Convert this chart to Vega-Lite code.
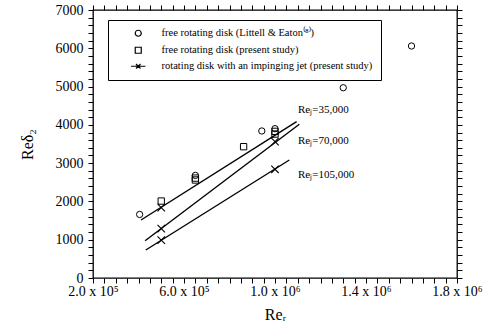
{
  "$schema": "https://vega.github.io/schema/vega-lite/v6.json",
  "width": 364,
  "height": 268,
  "autosize": "none",
  "padding": {"left": 93, "top": 10, "right": 26, "bottom": 51},
  "background": "white",
  "config": {
    "view": {"stroke": "black", "strokeWidth": 1.3},
    "font": "Liberation Serif",
    "axis": {
      "domain": false,
      "grid": false,
      "labelFont": "Liberation Serif",
      "labelFontSize": 14,
      "labelColor": "black",
      "titleFont": "Liberation Serif",
      "titleFontSize": 16,
      "titleFontWeight": "normal",
      "titleColor": "black",
      "labelOverlap": false,
      "labelFlush": false
    }
  },
  "datasets": {
    "pts": [
      {"series": "free rotating disk (Littell & Eaton⁽⁸⁾)", "x": 405000, "y": 1660},
      {"series": "free rotating disk (Littell & Eaton⁽⁸⁾)", "x": 650000, "y": 2680},
      {"series": "free rotating disk (Littell & Eaton⁽⁸⁾)", "x": 942000, "y": 3840},
      {"series": "free rotating disk (Littell & Eaton⁽⁸⁾)", "x": 1000000, "y": 3900},
      {"series": "free rotating disk (Littell & Eaton⁽⁸⁾)", "x": 1300000, "y": 4970},
      {"series": "free rotating disk (Littell & Eaton⁽⁸⁾)", "x": 1600000, "y": 6060},
      {"series": "free rotating disk (present study)", "x": 500000, "y": 2010},
      {"series": "free rotating disk (present study)", "x": 650000, "y": 2610},
      {"series": "free rotating disk (present study)", "x": 650000, "y": 2560},
      {"series": "free rotating disk (present study)", "x": 862000, "y": 3430},
      {"series": "free rotating disk (present study)", "x": 1000000, "y": 3830},
      {"series": "free rotating disk (present study)", "x": 1000000, "y": 3760}
    ],
    "lines": [
      {"rej": "35000", "x": 411000, "y": 1515},
      {"rej": "35000", "x": 1095000, "y": 4083},
      {"rej": "70000", "x": 429000, "y": 974},
      {"rej": "70000", "x": 1107000, "y": 4015},
      {"rej": "105000", "x": 432000, "y": 731},
      {"rej": "105000", "x": 1063000, "y": 3082}
    ],
    "crosses": [
      {"rej": "35000", "x": 500000, "y": 1840},
      {"rej": "70000", "x": 500000, "y": 1290},
      {"rej": "70000", "x": 1000000, "y": 3560},
      {"rej": "105000", "x": 500000, "y": 990},
      {"rej": "105000", "x": 1000000, "y": 2840}
    ],
    "labels": [
      {"label": "Reⱼ=35,000", "x": 1101000, "y": 4390},
      {"label": "Reⱼ=70,000", "x": 1101000, "y": 3580},
      {"label": "Reⱼ=105,000", "x": 1101000, "y": 2690}
    ]
  },
  "layer": [
    {
      "data": {"name": "pts"},
      "mark": {"type": "point", "filled": false, "stroke": "black", "strokeWidth": 1, "size": 40, "opacity": 1},
      "encoding": {
        "x": {
          "field": "x", "type": "quantitative",
          "scale": {"domain": [200000, 1800000], "nice": false, "zero": false},
          "title": "Reᵣ",
          "axis": {
            "orient": "bottom",
            "ticks": true,
            "tickColor": "black",
            "tickWidth": 1,
            "tickSize": 5,
            "values": [200000, 250000, 300000, 350000, 400000, 450000, 500000, 550000, 600000, 650000, 700000, 750000, 800000, 850000, 900000, 950000, 1000000, 1050000, 1100000, 1150000, 1200000, 1250000, 1300000, 1350000, 1400000, 1450000, 1500000, 1550000, 1600000, 1650000, 1700000, 1750000, 1800000],
            "labelExpr": "datum.value % 400000 == 200000 ? (datum.value < 1000000 ? format(datum.value/100000, '.1f') + ' x 10⁵' : format(datum.value/1000000, '.1f') + ' x 10⁶') : ''",
            "encode": {"ticks": {"update": {"y2": {"signal": "datum.value % 200000 == 0 ? -5 : -2.5"}}}},
            "labelPadding": 1,
            "titlePadding": 8
          }
        },
        "y": {
          "field": "y", "type": "quantitative",
          "scale": {"domain": [0, 7000], "nice": false},
          "title": "Reδ₂",
          "axis": {
            "orient": "left",
            "ticks": true,
            "tickColor": "black",
            "tickWidth": 1,
            "tickSize": 5,
            "values": [0, 200, 400, 600, 800, 1000, 1200, 1400, 1600, 1800, 2000, 2200, 2400, 2600, 2800, 3000, 3200, 3400, 3600, 3800, 4000, 4200, 4400, 4600, 4800, 5000, 5200, 5400, 5600, 5800, 6000, 6200, 6400, 6600, 6800, 7000],
            "labelExpr": "datum.value % 1000 == 0 ? datum.value : ''",
            "encode": {"ticks": {"update": {"x2": {"signal": "datum.value % 1000 == 0 ? 5 : 2.5"}}}},
            "labelPadding": 5,
            "titlePadding": 20
          }
        },
        "shape": {
          "field": "series", "type": "nominal",
          "scale": {
            "domain": ["free rotating disk (Littell & Eaton⁽⁸⁾)", "free rotating disk (present study)", "rotating disk with an impinging jet (present study)"],
            "range": ["circle", "square", "M-2.4,0H2.4M-0.75,-0.75L0.75,0.75M-0.75,0.75L0.75,-0.75"]
          },
          "legend": {
            "title": null,
            "orient": "none",
            "legendX": 15,
            "legendY": 10,
            "strokeColor": "black",
            "padding": 8,
            "symbolOffset": 17,
            "labelOffset": 18,
            "rowPadding": 5,
            "symbolSize": 36,
            "symbolStrokeColor": "black",
            "symbolFillColor": "transparent",
            "symbolStrokeWidth": 1.2,
            "fillColor": "white",
            "labelFont": "Liberation Serif",
            "labelFontSize": 10.5,
            "labelColor": "black",
            "labelLimit": 400
          }
        }
      }
    },
    {
      "data": {"name": "lines"},
      "mark": {"type": "line", "color": "black", "strokeWidth": 1.4},
      "encoding": {
        "x": {
          "field": "x", "type": "quantitative",
          "axis": {
            "orient": "top",
            "ticks": true,
            "tickColor": "black",
            "tickWidth": 1,
            "tickSize": 5,
            "values": [200000, 250000, 300000, 350000, 400000, 450000, 500000, 550000, 600000, 650000, 700000, 750000, 800000, 850000, 900000, 950000, 1000000, 1050000, 1100000, 1150000, 1200000, 1250000, 1300000, 1350000, 1400000, 1450000, 1500000, 1550000, 1600000, 1650000, 1700000, 1750000, 1800000],
            "labels": false,
            "title": null,
            "encode": {"ticks": {"update": {"y2": {"signal": "datum.value % 200000 == 0 ? 5 : 2.5"}}}}
          }
        },
        "y": {
          "field": "y", "type": "quantitative",
          "axis": {
            "orient": "right",
            "ticks": true,
            "tickColor": "black",
            "tickWidth": 1,
            "tickSize": 5,
            "values": [0, 200, 400, 600, 800, 1000, 1200, 1400, 1600, 1800, 2000, 2200, 2400, 2600, 2800, 3000, 3200, 3400, 3600, 3800, 4000, 4200, 4400, 4600, 4800, 5000, 5200, 5400, 5600, 5800, 6000, 6200, 6400, 6600, 6800, 7000],
            "labels": false,
            "title": null,
            "encode": {"ticks": {"update": {"x2": {"signal": "datum.value % 1000 == 0 ? -5 : -2.5"}}}}
          }
        },
        "detail": {"field": "rej", "type": "nominal"}
      }
    },
    {
      "data": {"name": "crosses"},
      "mark": {"type": "point", "shape": "M-1,-1L1,1M-1,1L1,-1", "filled": false, "stroke": "black", "strokeWidth": 1.1, "size": 56, "opacity": 1},
      "encoding": {
        "x": {"field": "x", "type": "quantitative", "axis": null},
        "y": {"field": "y", "type": "quantitative", "axis": null}
      }
    },
    {
      "data": {"name": "labels"},
      "mark": {"type": "text", "align": "left", "baseline": "middle", "font": "Liberation Serif", "fontSize": 11, "color": "black"},
      "encoding": {
        "x": {"field": "x", "type": "quantitative", "axis": null},
        "y": {"field": "y", "type": "quantitative", "axis": null},
        "text": {"field": "label", "type": "nominal"}
      }
    }
  ],
  "resolve": {"axis": {"x": "independent", "y": "independent"}}
}
